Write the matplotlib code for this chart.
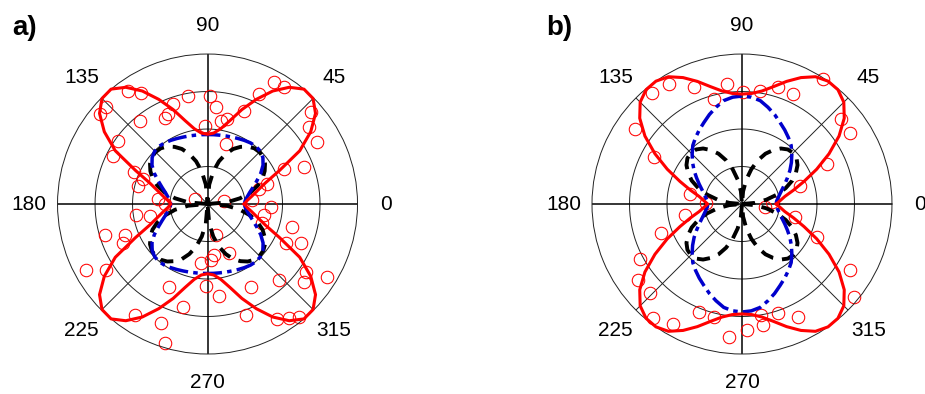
import numpy as np
import matplotlib.pyplot as plt

plt.rcParams['font.family'] = ['Liberation Sans', 'DejaVu Sans']

# quarter-turn profiles sampled every 5 deg from 0 to 90;
# the patterns are mirror symmetric about both axes
ang_q = np.arange(0, 91, 5)

red_a = [0.245, 0.265, 0.30, 0.345, 0.41, 0.53, 0.71, 0.84, 0.94, 0.995,
         1.0, 0.95, 0.87, 0.77, 0.67, 0.575, 0.51, 0.475, 0.465]
blue_a = [0.245, 0.252, 0.268, 0.29, 0.322, 0.362, 0.41, 0.452, 0.482, 0.498,
          0.502, 0.498, 0.49, 0.482, 0.475, 0.47, 0.466, 0.464, 0.463]
black_a = [0.0, 0.13, 0.22, 0.295, 0.355, 0.405, 0.44, 0.468, 0.485, 0.49,
           0.485, 0.468, 0.44, 0.405, 0.355, 0.295, 0.22, 0.13, 0.0]

red_b = [0.229, 0.255, 0.29, 0.355, 0.44, 0.55, 0.67, 0.79, 0.89, 0.96,
         0.995, 1.0, 0.98, 0.93, 0.87, 0.81, 0.765, 0.74, 0.733]
blue_b = [0.228, 0.232, 0.245, 0.262, 0.285, 0.315, 0.35, 0.39, 0.43, 0.47,
          0.51, 0.54, 0.57, 0.60, 0.635, 0.668, 0.70, 0.715, 0.72]
black_b = [0.0, 0.085, 0.165, 0.24, 0.31, 0.37, 0.415, 0.452, 0.475, 0.482,
           0.475, 0.452, 0.415, 0.37, 0.31, 0.24, 0.165, 0.085, 0.0]

# measured points: polarizer angle (deg) and normalised signal
pts_a_deg = [61.4, 56.7, 64.9, 88.7, 85.2, 68.6, 76.9, 81.0, 92.0, 41.6,
             37.0, 29.3, 73.2, 24.6, 20.8, 18.5, 16.2, 11.5, 4.8,
             125.1, 120.9, 100.2, 109.0, 113.7, 116.4, 140.2, 136.3, 129.2, 144.7,
             152.9, 156.7, 158.8, 165.2, 174.3, 158.8, 180.0,
             188.8, 191.7, 196.8, 200.6, 205.0, 208.6, 213.1, 264.0, 269.0,
             244.8, 256.6, 236.8, 248.7, 252.9,
             357.6, 349.0, 340.6, 345.0, 284.6, 293.5, 277.2, 273.2, 333.3, 337.1,
             325.4, 321.1, 313.3, 297.4, 277.2, 328.8, 289.0, 301.2, 305.5, 309.1]
pts_a_r = [0.924, 0.930, 0.81, 0.722, 0.647, 0.668, 0.582, 0.563, 0.522, 0.92,
           0.848, 0.84, 0.418, 0.561, 0.688, 0.42, 0.357, 0.112, 0.30,
           0.922, 0.86, 0.734, 0.705, 0.655, 0.64, 0.936, 0.934, 0.716, 0.731,
           0.708, 0.534, 0.461, 0.479, 0.332, 0.091, 0.285,
           0.48, 0.393, 0.716, 0.59, 0.621, 0.92, 0.806, 0.397, 0.547,
           0.609, 0.703, 0.885, 0.849, 0.972,
           0.421, 0.384, 0.388, 0.586, 0.214, 0.359, 0.343, 0.374, 0.583, 0.674,
           0.795, 0.826, 0.696, 0.626, 0.616, 0.934, 0.782, 0.899, 0.936, 0.968]

pts_b_deg = [89.5, 81.1, 72.9, 65.1, 57.0, 40.6, 33.3, 25.1, 17.6, 4.4, 353.0,
             129.1, 121.2, 112.5, 105.1, 97.1, 144.9, 152.2, 169.0, 178.0,
             190.8, 200.0, 208.5, 216.2, 224.0, 232.1, 240.0, 248.1, 255.9, 264.3,
             346.5, 336.1, 328.5, 320.4, 296.4, 288.2, 279.8, 272.4, 279.9]
pts_b_r = [0.744, 0.765, 0.818, 0.808, 0.993, 0.872, 0.859, 0.628, 0.403, 0.198, 0.154,
           0.951, 0.935, 0.842, 0.725, 0.806, 0.869, 0.666, 0.351, 0.24,
           0.389, 0.573, 0.772, 0.859, 0.85, 0.966, 0.924, 0.774, 0.774, 0.889,
           0.361, 0.549, 0.842, 0.969, 0.839, 0.767, 0.819, 0.841, 0.751]

rings = [0.25, 0.5, 0.75]
spokes = list(range(0, 360, 45))


def full_turn(deg, r):
    # unfold a 0..90 deg profile to the whole circle by mirror symmetry
    deg = np.asarray(deg, float)
    r = np.asarray(r, float)
    d = np.concatenate([deg, 180 - deg[::-1], 180 + deg, 360 - deg[::-1]])
    v = np.concatenate([r, r[::-1], r, r[::-1]])
    return np.radians(d), v


def draw_panel(ax, red, blue, black, p_deg, p_r):
    ax.grid(False)
    ax.set_xticks([])
    ax.set_yticks([])
    ax.spines['polar'].set_linewidth(0.7)
    ax.spines['polar'].set_color('#222222')

    th = np.linspace(0, 2 * np.pi, 361)
    for rr in rings:
        ax.plot(th, np.full_like(th, rr), color='#222222', lw=0.7, zorder=1)
    for s in spokes:
        main = s % 90 == 0
        ax.plot([np.radians(s)] * 2, [0, 1], color='black' if main else '#222222',
                lw=1.1 if main else 0.7, zorder=1)

    ax.plot(np.radians(p_deg), p_r, 'o', mfc='none', mec='red', ms=9, mew=0.75,
            zorder=2, clip_on=False)

    t, v = full_turn(ang_q, black)
    ax.plot(t, v, color='black', lw=2.8, dashes=(3.4, 2.3), zorder=3)
    t, v = full_turn(ang_q, blue)
    ax.plot(t, v, color='#0000cc', lw=2.5, dashes=(5.5, 1.5, 1.3, 1.5), zorder=4)
    t, v = full_turn(ang_q, red)
    ax.plot(t, v, color='red', lw=2.2, zorder=5, clip_on=False)

    for s in spokes:
        ax.text(np.radians(s), 1.19, str(s), ha='center', va='center', fontsize=15)
    ax.set_ylim(0, 1)


fig = plt.figure(figsize=(9.25, 3.94), dpi=100)
ax_a = fig.add_axes([0.0622, 0.1015, 0.3243, 0.7614], projection='polar')
ax_b = fig.add_axes([0.6400, 0.1015, 0.3243, 0.7614], projection='polar')

draw_panel(ax_a, red_a, blue_a, black_a, pts_a_deg, pts_a_r)
draw_panel(ax_b, red_b, blue_b, black_b, pts_b_deg, pts_b_r)

fig.text(0.0137, 0.911, 'a)', fontsize=20, fontweight='bold')
fig.text(0.5910, 0.911, 'b)', fontsize=20, fontweight='bold')

fig.savefig('out.png', dpi=100)
